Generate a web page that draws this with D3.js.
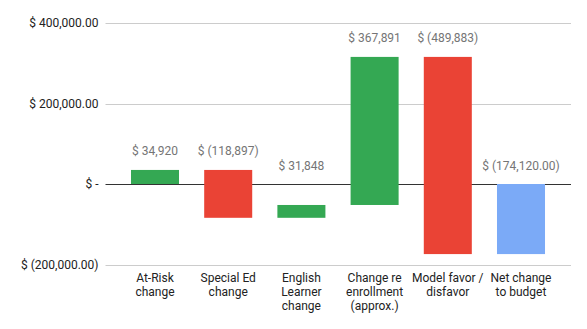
<!DOCTYPE html>
<html>
<head>
<meta charset="utf-8">
<script src="https://cdn.jsdelivr.net/npm/d3@7"></script>
<style>
  html, body { margin: 0; padding: 0; background: #fff; }
  svg { display: block; font-family: Roboto, "Noto Sans", Arial, sans-serif; }
</style>
</head>
<body>
<svg id="chart" width="587" height="329"></svg>
<script>
// Budget change steps (waterfall); the final entry is the running total.
const categories = [
  ["At-Risk", "change"],
  ["Special Ed", "change"],
  ["English", "Learner", "change"],
  ["Change re", "enrollment", "(approx.)"],
  ["Model favor /", "disfavor"],
  ["Net change", "to budget"]
];
const changes = [34920, -118897, 31848, 367891, -489883];
const netTotal = -174120;
const valueLabels = ["$ 34,920", "$ (118,897)", "$ 31,848", "$ 367,891", "$ (489,883)", "$ (174,120.00)"];
const yTicks = [400000, 200000, 0, -200000];
const yTickLabels = ["$ 400,000.00", "$ 200,000.00", "$ -", "$ (200,000.00)"];

const colors = { up: "#34a853", down: "#ea4335", total: "#7baaf7" };

// Build the floating segments from the running sum
let running = 0;
const bars = changes.map((v, i) => {
  const start = running;
  running += v;
  return { i, start, end: running, kind: v >= 0 ? "up" : "down" };
});
bars.push({ i: changes.length, start: 0, end: netTotal, kind: "total" });

const svg = d3.select("#chart");
const plotLeft = 105.5, plotRight = 571;

const x = d3.scaleBand()
  .domain(d3.range(categories.length))
  .range([118.4, 557.6])
  .paddingInner(0.344)
  .paddingOuter(0.172);

const y = d3.scaleLinear()
  .domain([-200000, 400000])
  .range([264.5, 23]);

// Gridlines
svg.append("g").selectAll("line")
  .data(yTicks)
  .join("line")
  .attr("x1", plotLeft).attr("x2", plotRight)
  .attr("y1", d => Math.round(y(d)) + 0.5).attr("y2", d => Math.round(y(d)) + 0.5)
  .attr("stroke", d => d === 0 ? "#333" : "#ccc")
  .attr("stroke-width", 1);

// Y axis labels
svg.append("g").selectAll("text")
  .data(yTicks)
  .join("text")
  .attr("x", 98.5)
  .attr("y", d => y(d))
  .attr("dy", "0.35em")
  .attr("text-anchor", "end")
  .attr("font-size", 12)
  .attr("fill", "#222")
  .text((d, i) => yTickLabels[i]);

// Bars
svg.append("g").selectAll("rect")
  .data(bars)
  .join("rect")
  .attr("x", d => x(d.i))
  .attr("width", x.bandwidth())
  .attr("y", d => y(Math.max(d.start, d.end)))
  .attr("height", d => Math.abs(y(d.start) - y(d.end)))
  .attr("fill", d => colors[d.kind]);

// Value labels above each step (never below the zero line)
svg.append("g").selectAll("text")
  .data(bars)
  .join("text")
  .attr("x", d => x(d.i) + x.bandwidth() / 2)
  .attr("y", d => y(Math.max(d.start, d.end, 0)) - 14.5)
  .attr("text-anchor", "middle")
  .attr("font-size", 12)
  .attr("fill", "#757575")
  .text((d, i) => valueLabels[i]);

// Category labels (multi-line)
const cat = svg.append("g").selectAll("text")
  .data(categories)
  .join("text")
  .attr("x", (d, i) => x(i) + x.bandwidth() / 2)
  .attr("y", 282)
  .attr("text-anchor", "middle")
  .attr("font-size", 12)
  .attr("fill", "#222");
cat.selectAll("tspan")
  .data(d => d)
  .join("tspan")
  .attr("x", function () { return d3.select(this.parentNode).attr("x"); })
  .attr("dy", (d, j) => j === 0 ? 0 : 14)
  .text(d => d);
</script>
</body>
</html>
